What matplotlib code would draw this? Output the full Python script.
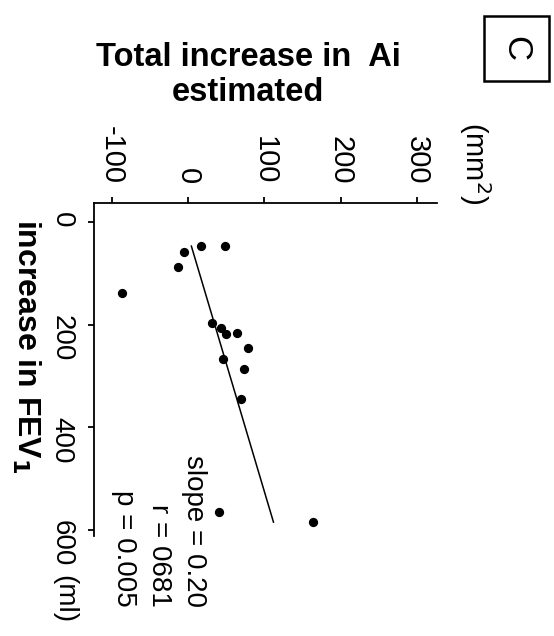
import matplotlib
matplotlib.use("Agg")
import matplotlib.pyplot as plt
from matplotlib.patches import Rectangle
import numpy as np

plt.rcParams['font.family'] = ['Liberation Sans', 'DejaVu Sans']

# Data: increase in FEV1 (ml) and total increase in Ai estimated (mm^2)
fev_increase = [47, 47, 58, 87, 139, 196, 207, 218, 217, 245, 267, 287, 345, 566, 585]
ai_increase = [48.5, 16.6, -4.8, -13.5, -86, 31, 43, 50, 64, 79, 45.5, 73, 69.5, 40.6, 164]
slope = 0.20
intercept = -5.0
ai_ticks = [-100, 0, 100, 200, 300]
fev_ticks = [0, 200, 400, 600]
stats_text = "slope = 0.20\nr = 0681\np = 0.005"

W, H = 554, 636
fig = plt.figure(figsize=(W / 100, H / 100), dpi=100)
fig.patch.set_facecolor('white')

ax_l, ax_r, ax_t, ax_b = 94, 437, 203, 536
ax = fig.add_axes([ax_l / W, 1 - ax_b / H, (ax_r - ax_l) / W, (ax_b - ax_t) / H])

ax.scatter(ai_increase, fev_increase, s=32, color='black', zorder=3)

fev_line = np.array([min(fev_increase), max(fev_increase)])
ax.plot(intercept + slope * fev_line, fev_line, color='black', lw=1.1)

ax.set_xlim(-123.2, 326.3)
ax.set_ylim(612, -37)

ax.spines['right'].set_visible(False)
ax.spines['bottom'].set_visible(False)
for s in ['top', 'left']:
    ax.spines[s].set_linewidth(1.3)

ax.xaxis.tick_top()
ax.set_xticks(ai_ticks)
ax.set_xticklabels([str(t) for t in ai_ticks])
ax.set_yticks(fev_ticks)
ax.set_yticklabels([str(t) for t in fev_ticks])
ax.tick_params(axis='x', direction='out', length=4.5, width=1.3, pad=9,
               labelsize=21, labelrotation=-90)
ax.tick_params(axis='y', direction='out', length=4, width=1.3, pad=10,
               labelsize=20, labelrotation=-90)

# Stats annotation
fig.text(207 / W, 1 - 607 / H, stats_text, rotation=-90, fontsize=20,
         ha='right', va='bottom', multialignment='right', linespacing=1.45)

# Unit labels
fig.text(475 / W, 1 - 122 / H, "(mm$^2$)", rotation=-90, fontsize=21,
         ha='center', va='top')
fig.text(64 / W, 1 - 575 / H, "(ml)", rotation=-90, fontsize=20,
         ha='center', va='top')

# Title
fig.text(248 / W, 1 - 42 / H, "Total increase in  Ai\nestimated", fontsize=23.5,
         fontweight='bold', ha='center', va='top', multialignment='center',
         linespacing=1.15)

# Left axis label
fig.text(42 / W, 1 - 219 / H, "increase in FEV$_\\mathbf{1}$", rotation=-90,
         fontsize=23, fontweight='bold', ha='right', va='top')

# Panel letter box
fig.patches.append(Rectangle((484 / W, 1 - 81 / H), 65 / W, 65 / H,
                             transform=fig.transFigure, fill=False,
                             edgecolor='black', lw=1.8))
fig.text(516 / W, 1 - 48 / H, "C", rotation=-90, fontsize=25,
         ha='center', va='center')

fig.savefig("out.png", dpi=100, facecolor='white')
